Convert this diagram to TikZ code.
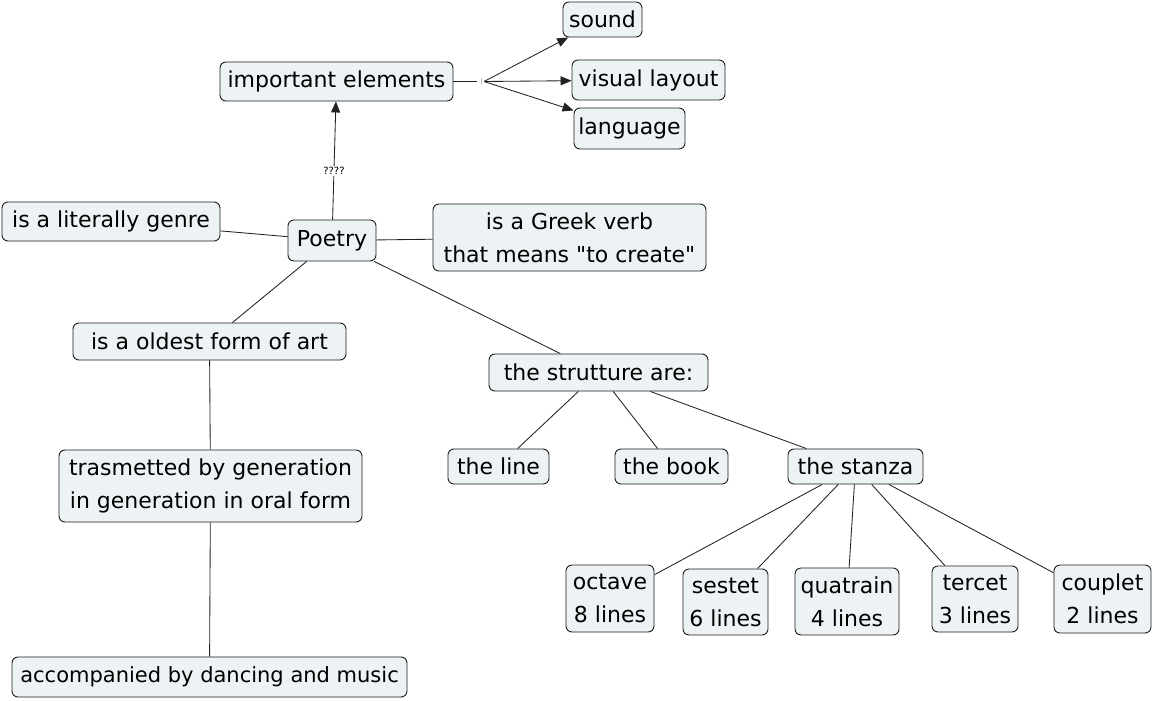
\documentclass[tikz,border=0pt]{standalone}
\usepackage{fontspec}
\setmainfont{DejaVu Sans}[Ligatures=TeXOff]
\usetikzlibrary{arrows.meta,calc}
\definecolor{boxfill}{HTML}{EDF3F5}
\definecolor{linec}{HTML}{222222}
\definecolor{boxline}{HTML}{1E1E1E}
\begin{document}
\begin{tikzpicture}[x=1pt,y=-1pt,
  box/.style={draw=boxline, fill=boxfill, rounded corners=6pt, line width=0.9pt,
    inner sep=0pt, align=center, font=\fontsize{22}{33}\selectfont},
  conn/.style={draw=linec, line width=0.85pt},
  arr/.style={conn, -{Triangle[length=11pt,width=9pt]}},
  qlabel/.style={fill=white, inner sep=1pt, font=\fontsize{10}{12}\selectfont}]
\useasboundingbox (0,0) rectangle (1154,701);
\fill[white] (0,0) rectangle (1154,701);

\node[box, minimum width=79pt, minimum height=35pt] (sound) at (602.5,19.5) {sound};
\node[box, minimum width=233pt, minimum height=39pt] (ie) at (336.5,81.5) {important elements};
\node[box, minimum width=153pt, minimum height=40pt] (visual) at (648.5,80) {visual layout};
\node[box, minimum width=111pt, minimum height=41pt] (language) at (629.5,128.5) {language};
\node[box, minimum width=218pt, minimum height=39pt] (genre) at (111,221.5) {is a literally genre};
\node[box, minimum width=88pt, minimum height=41pt] (poetry) at (332,240.5) {Poetry};
\node[box, minimum width=273pt, minimum height=67pt] (greek) at (569.5,237.5) {is a Greek verb\\that means "to create"};
\node[box, minimum width=273pt, minimum height=37pt] (oldest) at (209.5,341.5) {is a oldest form of art};
\node[box, minimum width=219pt, minimum height=37pt] (strut) at (598.5,372.5) {the strutture are:};
\node[box, minimum width=303pt, minimum height=72pt] (trasm) at (210.5,486) {trasmetted by generation\\in generation in oral form};
\node[box, minimum width=101pt, minimum height=35pt] (line) at (498.5,466.5) {the line};
\node[box, minimum width=113pt, minimum height=35pt] (book) at (671.5,466.5) {the book};
\node[box, minimum width=135pt, minimum height=35pt] (stanza) at (855.5,466.5) {the stanza};
\node[box, minimum width=88pt, minimum height=67pt] (octave) at (610,598.5) {octave\\8 lines};
\node[box, minimum width=85pt, minimum height=66pt] (sestet) at (725.5,602) {sestet\\6 lines};
\node[box, minimum width=104pt, minimum height=67pt] (quatrain) at (847,601.5) {quatrain\\4 lines};
\node[box, minimum width=86pt, minimum height=66pt] (tercet) at (975,599) {tercet\\3 lines};
\node[box, minimum width=97pt, minimum height=68pt] (couplet) at (1102.5,599) {couplet\\2 lines};
\node[box, minimum width=395pt, minimum height=40pt, font=\fontsize{21}{33}\selectfont] (accomp) at (209.5,677) {accompanied by dancing and music};

% junction of the "important elements" link
\coordinate (jend) at (477,81.5);
\coordinate (j) at (484,81.5);
\coordinate (tickA) at (481,78);
\coordinate (tickB) at (481,85);

\draw[arr] (poetry) -- node[qlabel, pos=0.41] {????} (ie);
\draw[conn] (ie.east) -- (jend);
\draw[draw=black!25, line width=0.6pt] (tickA) -- (tickB);
\draw[arr] (j) -- (sound);
\draw[arr] (j) -- (visual);
\draw[arr] (j) -- (language);

\draw[conn] (poetry) -- (genre);
\draw[conn] (poetry) -- (greek);
\draw[conn] (poetry) -- (oldest);
\draw[conn] (poetry) -- (strut);
\draw[conn] (oldest) -- (trasm);
\draw[conn] (trasm) -- (accomp);
\draw[conn] (strut) -- (line);
\draw[conn] (strut) -- (book);
\draw[conn] (strut) -- (stanza);
\draw[conn] (stanza) -- (octave);
\draw[conn] (stanza) -- (sestet);
\draw[conn] (stanza) -- (quatrain);
\draw[conn] (stanza) -- (tercet);
\draw[conn] (stanza) -- (couplet);
\end{tikzpicture}
\end{document}
